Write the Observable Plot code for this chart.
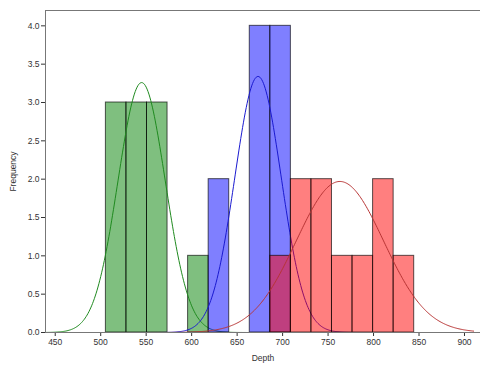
<!DOCTYPE html>
<html>
<head>
<meta charset="utf-8">
<script src="https://cdn.jsdelivr.net/npm/d3@7"></script>
<script src="https://cdn.jsdelivr.net/npm/@observablehq/plot@0.6"></script>
<style>
  html, body { margin: 0; padding: 0; background: #fff; overflow: hidden; }
  svg { display: block; }
</style>
</head>
<body>
<div id="chart"></div>
<script>
// Histogram bin edges (Depth) shared by all three groups
const binEdges = [505.7, 528.3, 550.9, 573.5, 596.1, 618.7, 641.3, 663.9,
                  686.5, 709.1, 731.7, 754.3, 776.9, 799.5, 822.1, 844.7];

// Counts per bin for each group
const groupNames = ["A", "B", "C"];
const countsA = [3, 3, 3, 0, 1, 0, 0, 0, 0, 0, 0, 0, 0, 0, 0];
const countsB = [0, 0, 0, 0, 0, 2, 0, 4, 4, 0, 0, 0, 0, 0, 0];
const countsC = [0, 0, 0, 0, 0, 0, 0, 0, 1, 2, 2, 1, 1, 2, 1];

// Fitted normal curves: mean, standard deviation, peak height
const curveMean = [545, 673, 763];
const curveSd = [26, 25.5, 48];
const curvePeak = [3.26, 3.34, 1.97];

const fillColors = ["#008000", "#0000ff", "#ff0000"];
const lineColors = ["#1f8a1f", "#1a1ad0", "#b83434"];

const xTicks = [450, 500, 550, 600, 650, 700, 750, 800, 850, 900];
const yTicks = [0, 0.5, 1, 1.5, 2, 2.5, 3, 3.5, 4];

const counts = [countsA, countsB, countsC];

// One rect per non-empty bin per group
const bars = [];
counts.forEach((cs, g) => {
  cs.forEach((c, i) => {
    if (c > 0) bars.push({group: g, x1: binEdges[i], x2: binEdges[i + 1], count: c});
  });
});

// Sampled density curve for each group
const curves = groupNames.map((_, g) => {
  const pts = [];
  for (let x = 440; x <= 910; x += 1) {
    const z = (x - curveMean[g]) / curveSd[g];
    pts.push({x, y: curvePeak[g] * Math.exp(-0.5 * z * z)});
  }
  return pts;
});

const marks = [];
groupNames.forEach((_, g) => {
  marks.push(Plot.rectY(bars.filter(d => d.group === g), {
    x1: "x1", x2: "x2", y1: 0, y2: "count",
    fill: fillColors[g], fillOpacity: 0.5,
    stroke: "#000", strokeOpacity: 0.65, strokeWidth: 1
  }));
  marks.push(Plot.line(curves[g], {
    x: "x", y: "y", stroke: lineColors[g], strokeWidth: 1, curve: "linear"
  }));
});

const chart = Plot.plot({
  width: 480,
  height: 368,
  marginLeft: 45,
  marginRight: 0,
  marginTop: 10,
  marginBottom: 36,
  style: {fontFamily: "'Liberation Sans', Arial, sans-serif", fontSize: "8.5px", color: "#333", background: "#fff"},
  x: {domain: [439.3, 917.6], ticks: xTicks, tickSize: 4, tickPadding: 2,
      label: "Depth", labelAnchor: "center", labelArrow: "none", labelOffset: 28},
  y: {domain: [0, 4.2], ticks: yTicks, tickSize: 4, tickPadding: 2,
      tickFormat: d3.format(".1f"),
      label: "Frequency", labelAnchor: "center", labelArrow: "none", labelOffset: 36},
  marks: [
    ...marks,
    Plot.frame({stroke: "#777", strokeWidth: 1})
  ]
});

document.getElementById("chart").appendChild(chart);
</script>
</body>
</html>
